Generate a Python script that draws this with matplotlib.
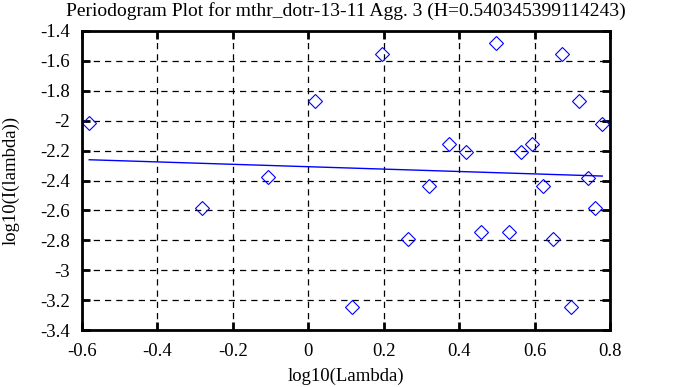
import matplotlib
matplotlib.use("Agg")
import matplotlib.pyplot as plt
from matplotlib.ticker import FuncFormatter

title = "Periodogram Plot for mthr_dotr-13-11 Agg. 3 (H=0.540345399114243)"
xlabel = "log10(Lambda)"
ylabel = "log10(I(lambda))"

log_lambda = [-0.581, -0.281, -0.106, 0.018, 0.116, 0.195, 0.263, 0.319, 0.372, 0.417,
              0.458, 0.496, 0.533, 0.563, 0.594, 0.623, 0.648, 0.673, 0.697, 0.718,
              0.740, 0.759, 0.779]
log_I = [-2.018, -2.586, -2.379, -1.866, -3.244, -1.552, -2.789, -2.435, -2.158, -2.209,
         -2.745, -1.483, -2.745, -2.211, -2.158, -2.435, -2.789, -1.552, -3.246, -1.866,
         -2.381, -2.584, -2.022]
fit_x = [-0.581, 0.779]
fit_y = [-2.261, -2.370]

xticks = [-0.6, -0.4, -0.2, 0, 0.2, 0.4, 0.6, 0.8]
yticks = [-3.4, -3.2, -3.0, -2.8, -2.6, -2.4, -2.2, -2.0, -1.8, -1.6, -1.4]

plt.rcParams['font.family'] = ['Liberation Serif', 'DejaVu Serif']
plt.rcParams['font.size'] = 13.5

fig = plt.figure(figsize=(6.78, 3.87), dpi=100)
ax = fig.add_axes([0.121, 0.147, 0.779, 0.773])

ax.plot(log_lambda, log_I, linestyle='none', marker='D', markersize=7.5,
        markerfacecolor='none', markeredgecolor='blue', markeredgewidth=0.8)
ax.plot(fit_x, fit_y, color='blue', linewidth=1.0)

ax.set_xlim(-0.6, 0.8)
ax.set_ylim(-3.4, -1.4)
ax.set_xticks(xticks)
ax.set_yticks(yticks)
fmt = FuncFormatter(lambda v, p: ('%g' % round(v, 6)))
ax.xaxis.set_major_formatter(fmt)
ax.yaxis.set_major_formatter(fmt)
ax.grid(True, color='black', linestyle=(0, (5, 4)), linewidth=0.9)
ax.tick_params(direction='in', length=6, width=2, top=True, right=True)
ax.tick_params(axis='x', pad=9)
ax.tick_params(axis='y', pad=8.5)
for s in ax.spines.values():
    s.set_linewidth(2)
    s.set_color('black')

ax.set_title(title, fontsize=14, pad=11)
ax.set_xlabel(xlabel, labelpad=6)
ax.set_ylabel(ylabel, labelpad=15)

fig.savefig("out.png", dpi=100)
